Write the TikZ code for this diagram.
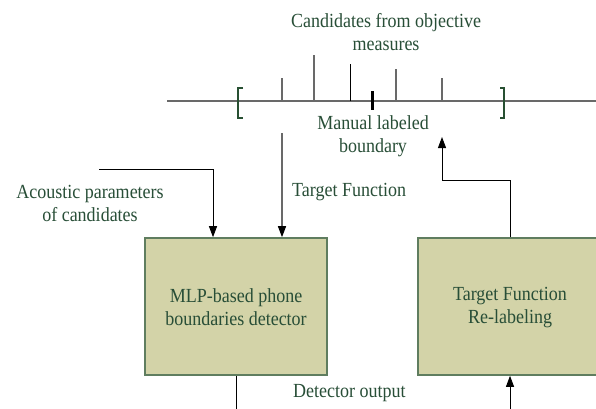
\documentclass[tikz,border=0pt]{standalone}
\usepackage{fontspec}
\setmainfont{Liberation Serif}[FakeStretch=0.9]
\usetikzlibrary{arrows.meta}
\definecolor{txtgreen}{RGB}{40,78,55}
\definecolor{boxfill}{RGB}{211,211,168}
\definecolor{boxedge}{RGB}{95,125,95}
\definecolor{linegray}{RGB}{105,105,105}
\definecolor{brgreen}{RGB}{40,80,50}
\tikzset{
  lbl/.style={text=txtgreen, font=\fontsize{20}{23}\selectfont, align=center, inner sep=0pt},
  procbox/.style={draw=boxedge, line width=1.6pt, fill=boxfill, minimum height=137pt, inner sep=0pt},
  conn/.style={black, line width=0.9pt},
  grayconn/.style={linegray, line width=1.2pt},
  arr/.style={-{Triangle[length=11pt,width=8pt,color=black]}},
  tickmark/.style={linegray, line width=1.1pt},
  bracket/.style={brgreen, line width=2pt},
}
\begin{document}
\begin{tikzpicture}[x=1pt,y=-1pt]
\useasboundingbox (0,0) rectangle (596,408);
% axis
\coordinate (axL) at (167,101);
\coordinate (axR) at (596,101);
\draw[grayconn] (axL) -- (axR);
% brackets
\draw[bracket] (243,88) -- (238,88) -- (238,118) -- (243,118);
\draw[bracket] (500,88) -- (504,88) -- (504,118) -- (500,118);
% ticks
\draw[tickmark] (282,101) -- (282,78);
\draw[tickmark] (314,101) -- (314,55);
\draw[black, line width=0.8pt] (350,101) -- (350,64);
\draw[tickmark] (396,101) -- (396,69);
\draw[tickmark] (442,101) -- (442,78);
% manual mark
\draw[black, line width=3pt] (372,91) -- (372,110);
% labels
\node[lbl] (cand) at (386,32) {Candidates from objective\\measures};
\node[lbl] (manual) at (373,136.5) {Manual labeled\\boundary};
\node[lbl] (acou) at (90,203.5) {Acoustic parameters\\of candidates};
\node[lbl, anchor=west] (tf) at (292,192) {Target Function};
\node[lbl, anchor=west] (det) at (293,393) {Detector output};
% boxes
\node[procbox, minimum width=182pt] (mlp) at (236,306.5) {};
\node[lbl] (mlptxt) at (236,307.5) {MLP-based phone\\boundaries detector};
\node[procbox, minimum width=192pt] (relab) at (514,306.5) {};
\node[lbl] (relabtxt) at (510,307.5) {Target Function\\Re-labeling};
% connectors
\coordinate (acStart) at (99,169);
\draw[conn, arr] (acStart) -| (mlp.north -| 213,0);
\coordinate (tfStart) at (282,133);
\draw[grayconn, arr] (tfStart) -- (tfStart |- mlp.north);
\coordinate (manArrow) at (442,137);
\draw[conn, arr] (relab.north -| 510,0) -- (510,180) -| (manArrow);
\coordinate (mlpOut) at (236,410);
\draw[conn] (mlp.south) -- (mlpOut);
\coordinate (relIn) at (510,410);
\draw[conn, arr] (relIn) -- (relIn |- relab.south);
\end{tikzpicture}
\end{document}
